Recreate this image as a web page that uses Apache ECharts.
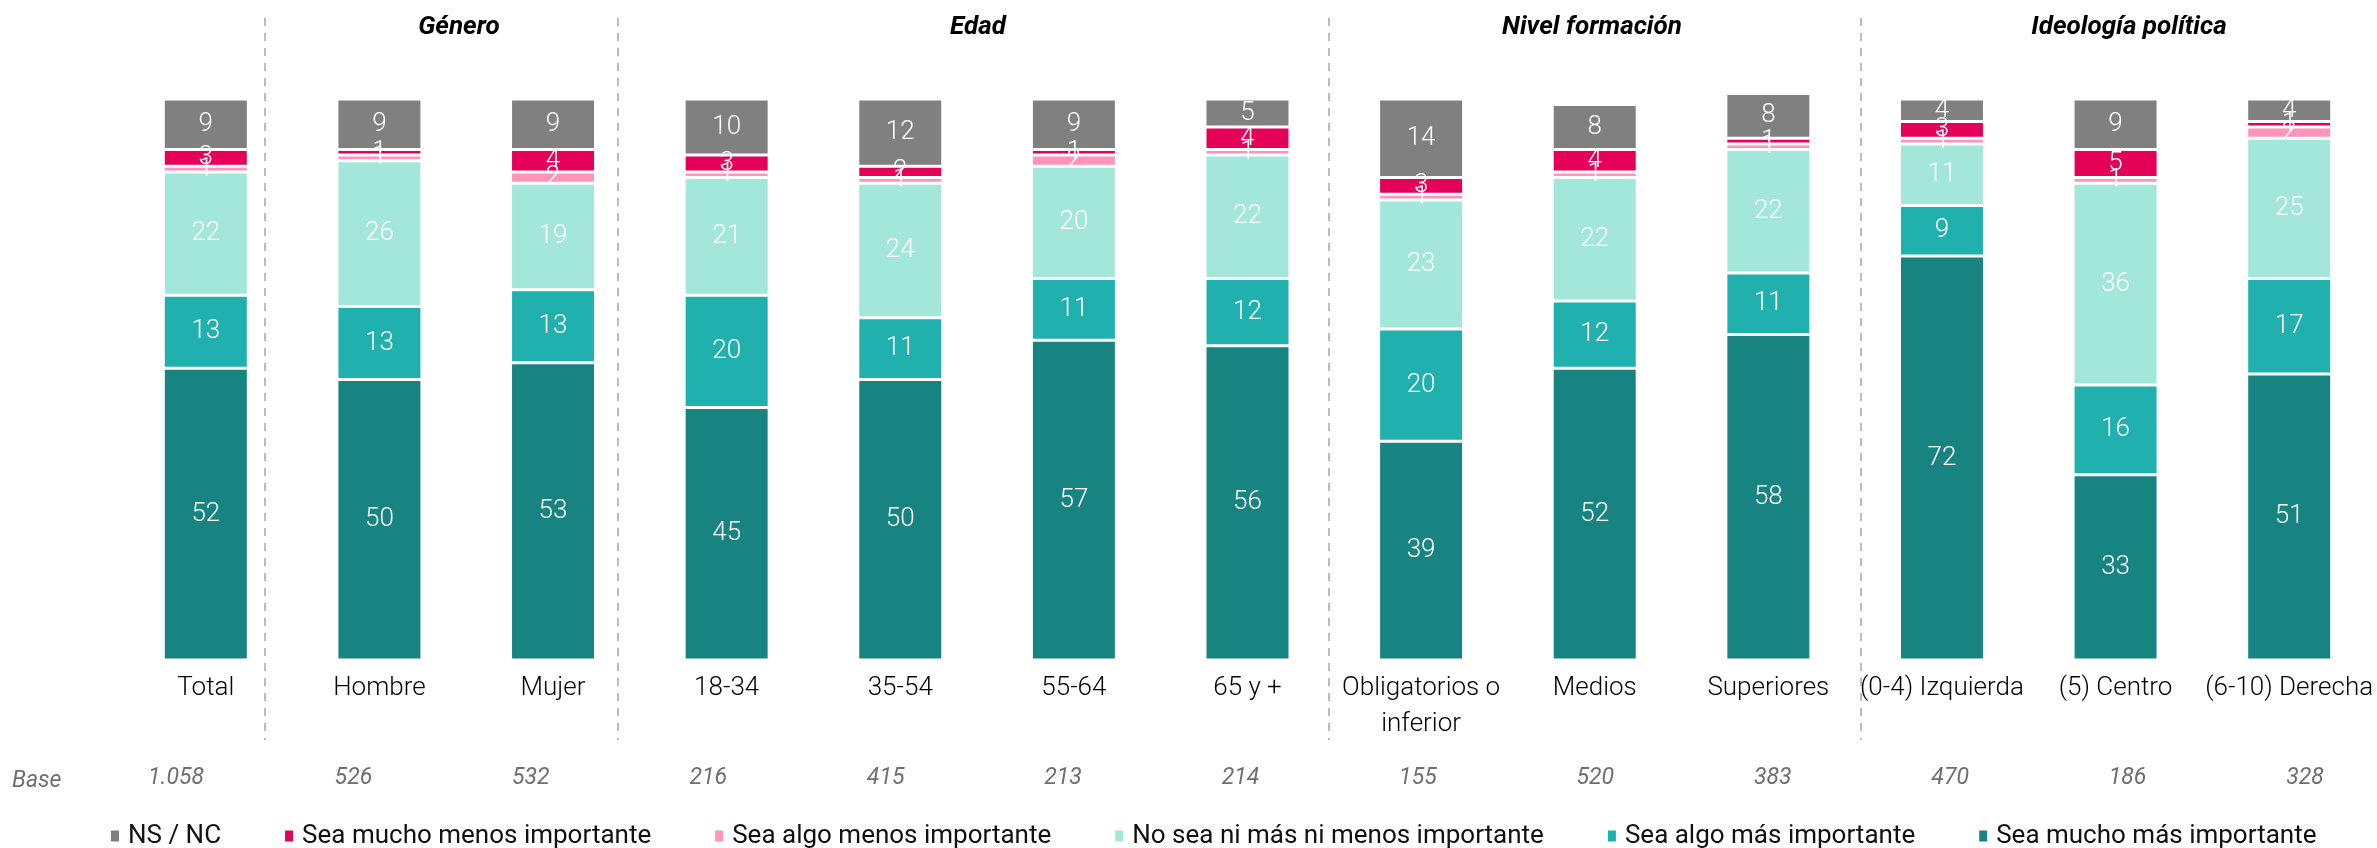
<!DOCTYPE html>
<html><head><meta charset="utf-8">
<script src="https://cdn.jsdelivr.net/npm/echarts@6/dist/echarts.min.js"></script>
<style>html,body{margin:0;padding:0;background:#fff}#c{width:2377px;height:848px}</style>
</head><body><div id="c"></div>
<script>
const categories = ['Total','Hombre','Mujer','18-34','35-54','55-64','65 y +','Obligatorios o\ninferior','Medios','Superiores','(0-4) Izquierda','(5) Centro','(6-10) Derecha'];
const baseValues = ['1.058','526','532','216','415','213','214','155','520','383','470','186','328'];
const muchoMas   = [52,50,53,45,50,57,56,39,52,58,72,33,51];
const algoMas    = [13,13,13,20,11,11,12,20,12,11,9,16,17];
const niNi       = [22,26,19,21,24,20,22,23,22,22,11,36,25];
const algoMenos  = [1,1,2,1,1,2,1,1,1,1,1,1,2];
const muchoMenos = [3,1,4,3,2,1,4,3,4,1,3,5,1];
const nsnc       = [9,9,9,10,12,9,5,14,8,8,4,9,4];
const groupHeaders = [
  {text:'Género', x:459},
  {text:'Edad', x:978},
  {text:'Nivel formación', x:1592},
  {text:'Ideología política', x:2129}
];
const separatorsX = [265, 618, 1329, 1861];

const FONT = 'Roboto';
const seriesDefs = [
  {name:'Sea mucho más importante', data:muchoMas, color:'#178482'},
  {name:'Sea algo más importante', data:algoMas, color:'#20B1AE'},
  {name:'No sea ni más ni menos importante', data:niNi, color:'#A3E7DA'},
  {name:'Sea algo menos importante', data:algoMenos, color:'#FF93BA'},
  {name:'Sea mucho menos importante', data:muchoMenos, color:'#E50058'},
  {name:'NS / NC', data:nsnc, color:'#808080'}
];

const chart = echarts.init(document.getElementById('c'));
const graphics = [];
groupHeaders.forEach(h => graphics.push({type:'text', x:h.x, y:27, style:{text:h.text, font:'italic bold 26px Roboto', fill:'#000', textAlign:'center', textVerticalAlign:'middle'}}));
separatorsX.forEach(x => graphics.push({type:'line', shape:{x1:x, y1:18, x2:x, y2:740}, style:{stroke:'#A6A6A6', lineWidth:1.5, lineDash:[8,7]}}));
graphics.push({type:'text', x:12, y:781, style:{text:'Base', font:'italic 23px Roboto', fill:'#6F6F6F', textAlign:'left', textVerticalAlign:'middle'}});

chart.setOption({
  animation:false,
  textStyle:{fontFamily:FONT},
  grid:[
    {left:119, right:1, top:99, height:561, containLabel:false},
    {left:176, right:72, top:760, height:1, containLabel:false}
  ],
  legend:{
    data:['NS / NC','Sea mucho menos importante','Sea algo menos importante','No sea ni más ni menos importante','Sea algo más importante','Sea mucho más importante'],
    left:104, top:818, itemWidth:10, itemHeight:13, itemGap:62, icon:'rect',
    textStyle:{fontFamily:FONT, fontWeight:'normal', fontSize:26, color:'#111', padding:[0,0,0,3]}
  },
  xAxis:[
    {type:'category', gridIndex:0, data:categories, axisLine:{show:false}, axisTick:{show:false},
     axisLabel:{interval:0, color:'#000', fontFamily:FONT, fontWeight:300, fontSize:26, lineHeight:36, margin:10}},
    {type:'category', gridIndex:1, data:baseValues, boundaryGap:false, axisLine:{show:false}, axisTick:{show:false},
     axisLabel:{interval:0, color:'#6F6F6F', fontFamily:FONT, fontStyle:'italic', fontWeight:'normal', fontSize:23, margin:6}}
  ],
  yAxis:[
    {type:'value', gridIndex:0, min:0, max:100, show:false},
    {type:'value', gridIndex:1, show:false}
  ],
  series: seriesDefs.map(s => ({
    name:s.name, type:'bar', stack:'total', xAxisIndex:0, yAxisIndex:0, barWidth:85, clip:false,
    data:s.data,
    itemStyle:{color:s.color, borderColor:'#fff', borderWidth:1.5},
    label:{show:true, position:'inside', color:'#fff', fontFamily:FONT, fontWeight:300, fontSize:26}
  })),
  graphic: graphics
});
</script></body></html>
